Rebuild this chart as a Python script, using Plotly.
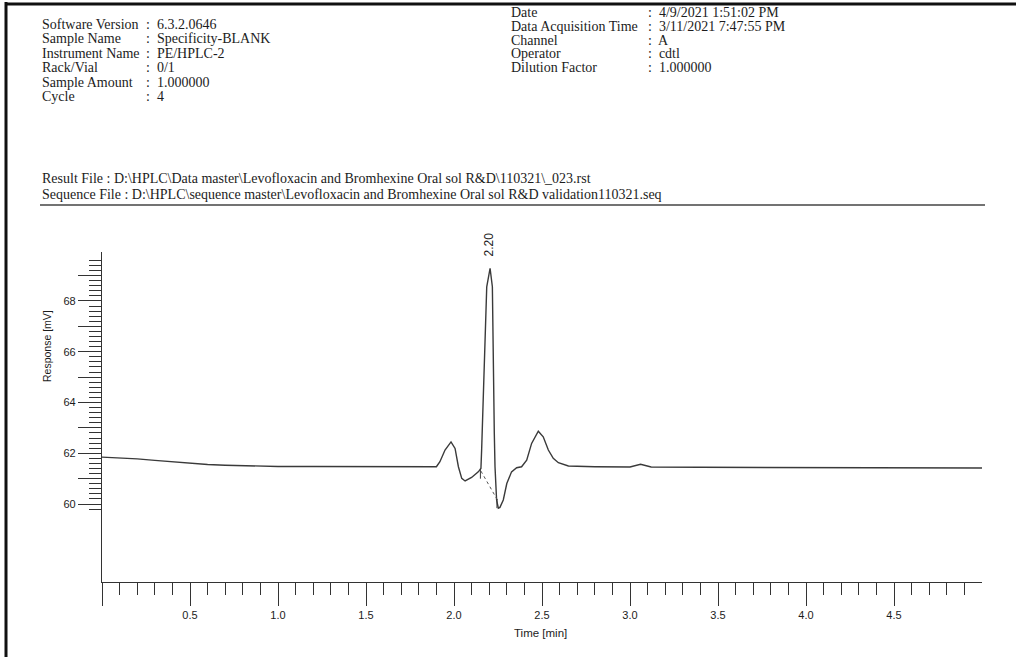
import plotly.graph_objects as go

# ---- chromatogram (time in min, response in mV) ----
time_min = [0.00, 0.10, 0.20, 0.30, 0.40, 0.50, 0.60, 0.70, 0.80, 0.90, 1.00,
            1.20, 1.40, 1.60, 1.80, 1.90, 1.92, 1.949, 1.983, 2.006, 2.025,
            2.044, 2.063, 2.10, 2.138, 2.153, 2.157, 2.166, 2.186, 2.205,
            2.218, 2.229, 2.233, 2.242, 2.252, 2.261, 2.28, 2.30, 2.327,
            2.356, 2.384, 2.413, 2.441, 2.479, 2.507, 2.536, 2.564, 2.593,
            2.65, 2.80, 3.00, 3.06, 3.12, 3.40, 3.80, 4.20, 4.60, 5.00]
response_mv = [61.85, 61.82, 61.78, 61.72, 61.66, 61.60, 61.56, 61.53, 61.51, 61.50, 61.48,
               61.48, 61.47, 61.47, 61.47, 61.47, 61.67, 62.13, 62.45, 62.19, 61.47,
               61.01, 60.91, 61.05, 61.27, 61.40, 62.13, 64.09, 68.56, 69.29,
               68.56, 62.80, 61.47, 60.16, 59.84, 59.87, 60.16, 60.81, 61.27,
               61.43, 61.47, 61.73, 62.39, 62.87, 62.65, 62.13, 61.80, 61.63,
               61.50, 61.47, 61.46, 61.57, 61.46, 61.45, 61.44, 61.43, 61.42, 61.42]

# integration baseline drawn under the main peak
baseline_t = [2.153, 2.247]
baseline_mv = [61.30, 60.16]

# peak start / end event marks
event_t = [2.150, 2.244]
event_lo = [61.00, 59.84]
event_hi = [61.40, 60.20]

peak_rt = 2.20
peak_label = "2.20"
peak_height = 69.29

x_major = [0.0, 0.5, 1.0, 1.5, 2.0, 2.5, 3.0, 3.5, 4.0, 4.5]
x_major_text = ["", "0.5", "1.0", "1.5", "2.0", "2.5", "3.0", "3.5", "4.0", "4.5"]
y_major = [60, 61, 62, 63, 64, 65, 66, 67, 68, 69]
y_major_text = ["60", "", "62", "", "64", "", "66", "", "68", ""]

header_left = [("Software Version", "6.3.2.0646"),
               ("Sample Name", "Specificity-BLANK"),
               ("Instrument Name", "PE/HPLC-2"),
               ("Rack/Vial", "0/1"),
               ("Sample Amount", "1.000000"),
               ("Cycle", "4")]
header_right = [("Date", "4/9/2021 1:51:02 PM"),
                ("Data Acquisition Time", "3/11/2021 7:47:55 PM"),
                ("Channel", "A"),
                ("Operator", "cdtl"),
                ("Dilution Factor", "1.000000")]
file_lines = [r"Result File : D:\HPLC\Data master\Levofloxacin and Bromhexine Oral sol R&amp;D\110321\_023.rst",
              r"Sequence File : D:\HPLC\sequence master\Levofloxacin and Bromhexine Oral sol R&amp;D validation110321.seq"]

# ---- page geometry (pixels) ----
W, H = 1016, 657
ML, MR, MT, MB = 102, 34, 252, 75
PW, PH = W - ML - MR, H - MT - MB


def px(x):
    return (x - ML) / PW


def py(y):
    return (H - MB - y) / PH


INK = "#1c1c1c"
SERIF = "Liberation Serif, Times New Roman, serif"
SANS = "Liberation Sans, Arial, sans-serif"

fig = go.Figure()

fig.add_trace(go.Scatter(x=time_min, y=response_mv, mode="lines",
                         line=dict(color="#3a3a3a", width=1.4),
                         hoverinfo="x+y", showlegend=False))
fig.add_trace(go.Scatter(x=baseline_t, y=baseline_mv, mode="lines",
                         line=dict(color="#555555", width=1, dash="dot"),
                         showlegend=False))
for t, lo, hi in zip(event_t, event_lo, event_hi):
    fig.add_trace(go.Scatter(x=[t, t], y=[lo, hi], mode="lines",
                             line=dict(color="#3a3a3a", width=1),
                             showlegend=False))

annotations = []
# peak retention time label
annotations.append(dict(x=peak_rt, y=peak_height, xref="x", yref="y",
                        text=peak_label, textangle=-90, showarrow=False,
                        yanchor="bottom", xanchor="center", yshift=10,
                        font=dict(family=SANS, size=12, color=INK)))


def text_at(x, y, s, size, family=SERIF, anchor="left", angle=0):
    annotations.append(dict(x=px(x), y=py(y), xref="paper", yref="paper",
                            text=s, showarrow=False, xanchor=anchor, yanchor="middle",
                            textangle=angle,
                            font=dict(family=family, size=size, color=INK)))


# header block
row_left = [24, 38.5, 53, 67.5, 82, 96]
for (lab, val), y in zip(header_left, row_left):
    text_at(40, y, lab, 14)
    text_at(144, y, ":  " + val, 14)
row_right = [12, 26, 40, 53.5, 67]
for (lab, val), y in zip(header_right, row_right):
    text_at(509, y, lab, 14)
    text_at(646, y, ":  " + val, 14)
for line, y in zip(file_lines, [178, 194]):
    text_at(40, y, line, 14)

# axis titles
text_at(47, 346, "Response [mV]", 10.5, family=SANS, anchor="center", angle=-90)
text_at(540, 633, "Time [min]", 11.5, family=SANS, anchor="center")

shapes = [
    # rule under the file paths
    dict(type="line", xref="paper", yref="paper", x0=px(40), x1=px(985),
         y0=py(205), y1=py(205), line=dict(color="#444444", width=1.5)),
    # page frame edges
    dict(type="line", xref="paper", yref="paper", x0=px(6), x1=px(6),
         y0=py(2), y1=py(H), line=dict(color="#111111", width=3)),
    dict(type="line", xref="paper", yref="paper", x0=px(5), x1=px(W),
         y0=py(4), y1=py(4), line=dict(color="#111111", width=3)),
]

x_minor = [round(0.1 * i, 1) for i in range(1, 50) if i % 5]
y_minor = [round(59.8 + 0.2 * i, 1) for i in range(0, 50) if round(59.8 + 0.2 * i, 1) % 1]

fig.update_layout(
    width=W, height=H,
    margin=dict(l=ML, r=MR, t=MT, b=MB),
    paper_bgcolor="white", plot_bgcolor="white",
    annotations=annotations, shapes=shapes,
    xaxis=dict(range=[0, 5.0], showgrid=False, zeroline=False,
               showline=True, linecolor="#333333", linewidth=1.2,
               ticks="outside", ticklen=23, tickwidth=1.2, tickcolor="#333333",
               tickvals=x_major, ticktext=x_major_text,
               tickfont=dict(family=SANS, size=11, color=INK),
               minor=dict(tickvals=x_minor, ticks="outside", ticklen=12,
                          tickwidth=1.2, tickcolor="#333333", showgrid=False)),
    yaxis=dict(range=[56.93, 69.93], showgrid=False, zeroline=False,
               showline=True, linecolor="#333333", linewidth=1.2,
               ticks="outside", ticklen=23, tickwidth=1, tickcolor="#333333",
               tickvals=y_major, ticktext=y_major_text,
               tickfont=dict(family=SANS, size=11, color=INK),
               minor=dict(tickvals=y_minor, ticks="outside", ticklen=12,
                          tickwidth=1, tickcolor="#333333", showgrid=False)),
)

fig.write_html("out.html")
